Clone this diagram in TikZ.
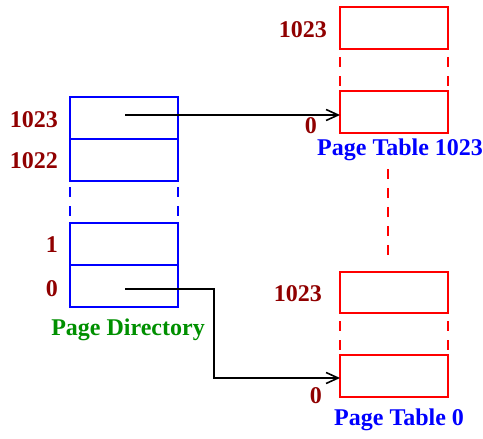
\documentclass[tikz,border=0pt]{standalone}
\usepackage{fontspec}
\setmainfont{Liberation Serif}
\usetikzlibrary{arrows.meta}
\definecolor{lblred}{RGB}{144,0,0}
\definecolor{pdgreen}{RGB}{0,144,0}
\definecolor{ptblue}{RGB}{0,0,255}
\definecolor{boxred}{RGB}{255,0,0}
\tikzset{
  cell/.style={draw, line width=2.2pt, minimum width=108pt, anchor=north west, inner sep=0pt, outer sep=0pt},
  pdcell/.style={cell, draw=ptblue},
  ptcell/.style={cell, draw=boxred},
  idx/.style={text=lblred, font=\fontsize{24}{28}\selectfont\bfseries, inner sep=0pt},
  title/.style={font=\fontsize{24}{28}\selectfont\bfseries, inner sep=0pt},
  gap/.style={line width=2.2pt, dash pattern=on 10pt off 9pt},
  ptr/.style={draw=black, line width=2pt, -{Straight Barb[length=12pt,width=11pt,line width=1.6pt]}}
}
\begin{document}
\begin{tikzpicture}[x=1pt,y=-1pt]
\useasboundingbox[fill=white] (0,0) rectangle (483,439);
% Page directory
\node[pdcell, minimum height=42pt] (pd1023) at (70,97) {};
\node[pdcell, minimum height=42pt] (pd1022) at (70,139) {};
\node[pdcell, minimum height=42pt] (pd1) at (70,223) {};
\node[pdcell, minimum height=42pt] (pd0) at (70,265) {};
\draw[gap, draw=ptblue, dash phase=-6pt] (pd1022.south west) -- (pd1.north west);
\draw[gap, draw=ptblue, dash phase=-6pt] (pd1022.south east) -- (pd1.north east);
\node[idx, anchor=east] (l1023) at (58,120) {1023};
\node[idx, anchor=east] (l1022) at (58,161) {1022};
\node[idx, anchor=east] (l1) at (58,245) {1};
\node[idx, anchor=east] (l0) at (58,289) {0};
\node[title, text=pdgreen] (pdt) at (128,330) {Page Directory};
% Page table 1023
\node[ptcell, minimum height=42pt] (t1023) at (340,7) {};
\node[ptcell, minimum height=42pt] (t0) at (340,91) {};
\draw[gap, draw=boxred, dash phase=-8pt] (t1023.south west) -- (t0.north west);
\draw[gap, draw=boxred, dash phase=-8pt] (t1023.south east) -- (t0.north east);
\node[idx, anchor=east] (tl1023) at (327,30) {1023};
\node[idx, anchor=east] (tl0) at (317,126) {0};
\node[title, text=ptblue, anchor=west] (ptt1) at (317,150) {Page Table 1023};
% Page table 0
\node[ptcell, minimum height=41pt] (s1023) at (340,272) {};
\node[ptcell, minimum height=42pt] (s0) at (340,355) {};
\draw[gap, draw=boxred, dash phase=-8pt] (s1023.south west) -- (s0.north west);
\draw[gap, draw=boxred, dash phase=-8pt] (s1023.south east) -- (s0.north east);
\node[idx, anchor=east] (sl1023) at (322,294) {1023};
\node[idx, anchor=east] (sl0) at (322,396) {0};
\node[title, text=ptblue, anchor=west] (ptt0) at (334,420) {Page Table 0};
% dashed link between page tables
\coordinate (m1) at (388,169);
\coordinate (m2) at (388,257);
\draw[gap, draw=boxred] (m1) -- (m2);
% pointers
\coordinate (a1) at (125,115);
\draw[ptr] (a1) -- (a1 -| t0.west);
\coordinate (a2) at (125,289);
\coordinate (b2) at (214,378);
\draw[ptr] (a2) -| (b2) -- (b2 -| s0.west);
\end{tikzpicture}
\end{document}
